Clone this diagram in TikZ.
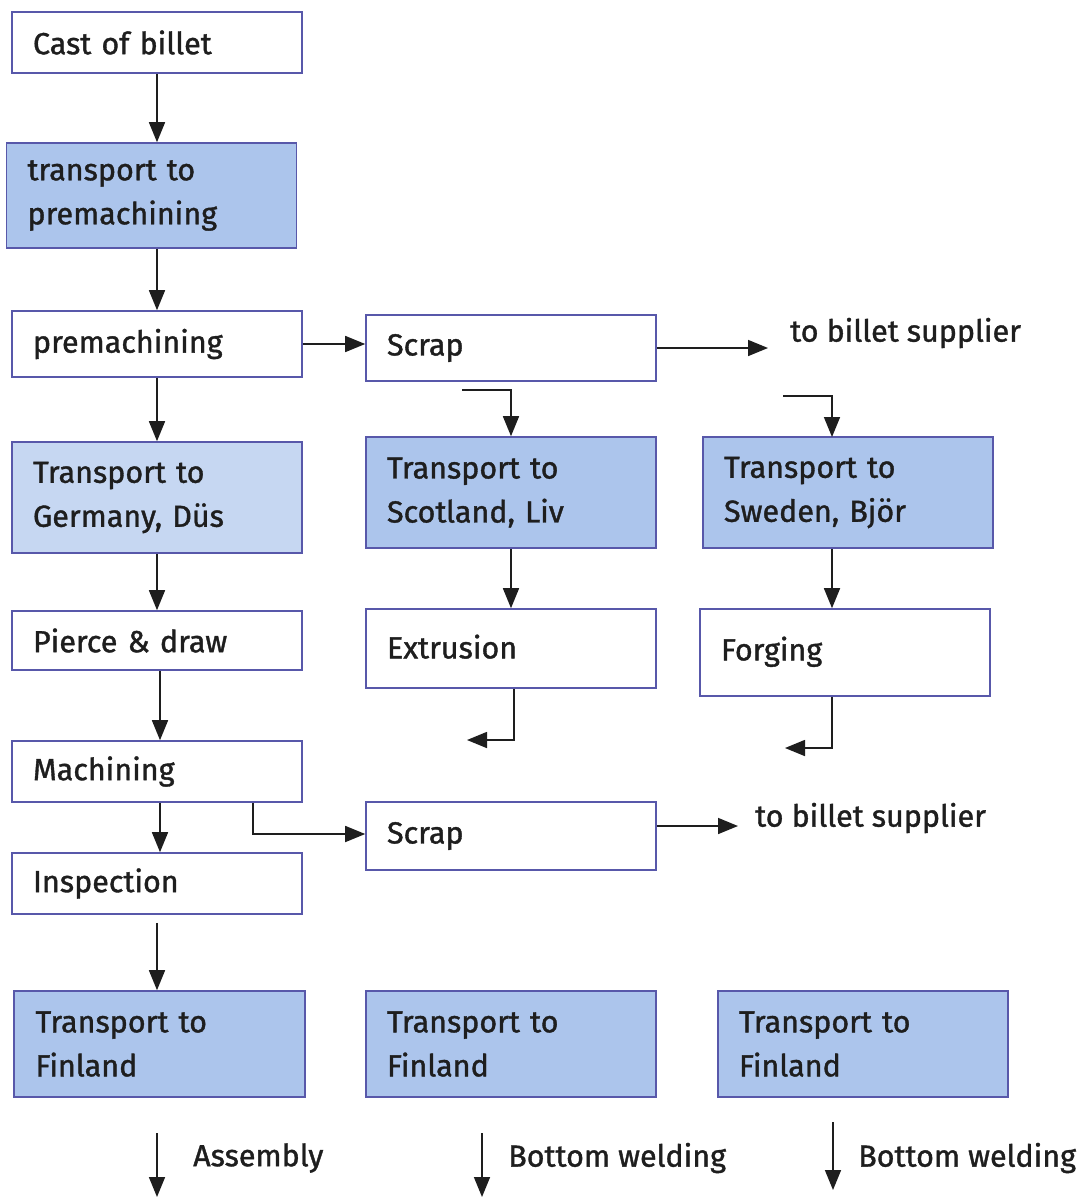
\documentclass[tikz,border=0pt]{standalone}
\usepackage{fontspec}
\setmainfont{Fira Sans}[FakeBold=1.2]
\usetikzlibrary{arrows.meta,positioning}
\definecolor{bordc}{RGB}{88,88,170}
\definecolor{fillb}{RGB}{172,197,236}
\definecolor{filll}{RGB}{198,215,242}
\definecolor{ink}{RGB}{30,30,30}
\begin{document}
\begin{tikzpicture}[x=1pt,y=1pt,
  every node/.style={text=ink,font=\fontsize{30.5}{44}\selectfont},
  box/.style={draw=bordc,line width=1.6pt,minimum width=290pt,text width=248pt,align=left,inner xsep=21pt,inner ysep=0pt},
  bluebox/.style={box,fill=fillb},
  lightbox/.style={box,fill=filll},
  lbl/.style={anchor=west,inner xsep=0pt},
  arr/.style={draw=ink,line width=1.6pt,-{Triangle[length=20pt,width=16pt]}}]
\fill[white] (0,0) rectangle (1088,-1200);
\useasboundingbox (0,0) rectangle (1088,-1200);
% left column
\node[box,minimum height=61pt] (cast) at (157,-42.5) {Cast of billet};
\node[bluebox,minimum width=289pt,minimum height=105pt] (tpre) at (151.5,-195.5) {transport to\\premachining};
\node[box,minimum height=66pt] (prem) at (157,-344) {premachining};
\node[lightbox,minimum height=111pt] (ger) at (157,-497.5) {Transport to\\Germany, Düs};
\node[box,minimum height=59pt] (pierce) at (157,-640.5) {Pierce \& draw};
\node[box,minimum height=61pt] (mach) at (157,-771.5) {Machining};
\node[box,minimum height=61pt] (insp) at (157,-883.5) {Inspection};
\node[bluebox,minimum width=291pt,minimum height=106pt] (fin1) at (159.5,-1044) {Transport to\\Finland};
% middle column
\node[box,minimum height=66pt] (scrap1) at (511,-348) {Scrap};
\node[bluebox,minimum height=111pt] (scot) at (511,-492.5) {Transport to\\Scotland, Liv};
\node[box,minimum height=79pt] (extr) at (511,-648.5) {\raisebox{4pt}{Extrusion}};
\node[box,minimum height=68pt] (scrap2) at (511,-836) {Scrap};
\node[bluebox,minimum height=106pt] (fin2) at (511,-1044) {Transport to\\Finland};
% right column
\node[bluebox,minimum height=111pt] (swe) at (848,-492.5) {Transport to\\Sweden, Björ};
\node[box,minimum height=87pt] (forg) at (845,-652.5) {\raisebox{8pt}{Forging}};
\node[bluebox,minimum height=106pt] (fin3) at (863,-1044) {Transport to\\Finland};
% labels
\node[lbl,inner xsep=22pt] (sup1) at (768,-333) {to billet supplier};
\node[lbl,inner xsep=17pt] (sup2) at (738,-818) {to billet supplier};
\node[lbl] (asm) at (193,-1158) {Assembly};
\node[lbl] (bw1) at (508,-1158) {Bottom welding};
\node[lbl] (bw2) at (858,-1158) {Bottom welding};
% free-end coordinates
\coordinate (e1) at (462,-390);
\coordinate (e2) at (783,-396);
\coordinate (e2t) at (832,-437);
\coordinate (ex) at (467,-740);
\coordinate (fx) at (785,-748);
\coordinate (b1s) at (157,-1133);
\coordinate (b1e) at (157,-1197);
\coordinate (b2s) at (482,-1133);
\coordinate (b2e) at (482,-1197);
\coordinate (b3s) at (833,-1122);
\coordinate (b3e) at (833,-1190);
% connectors
\draw[arr] (cast.south) -- (cast.south |- tpre.north);
\draw[arr] (cast.south |- tpre.south) -- (prem.north);
\draw[arr] (prem.east) -- (prem.east -| scrap1.west);
\draw[arr] (scrap1.east) -- (scrap1.east -| sup1.west);
\draw[arr] (prem.south) -- (ger.north);
\draw[arr] (e1) -| (scot.north);
\draw[arr] (e2) -| (e2t);
\draw[arr] (scot.south) -- (extr.north);
\draw[arr] (e2t |- swe.south) -- (e2t |- forg.north);
\draw[arr] ([xshift=3pt]extr.south) |- (ex);
\draw[arr] ([xshift=-13pt]forg.south) |- (fx);
\draw[arr] (ger.south) -- (pierce.north);
\draw[arr] ([xshift=3pt]pierce.south) -- ([xshift=3pt]mach.north);
\draw[arr] ([xshift=3pt]mach.south) -- ([xshift=3pt]insp.north);
\draw[arr] ([xshift=96pt]mach.south) |- ([yshift=2pt]scrap2.west);
\draw[arr] ([yshift=10pt]scrap2.east) -- ([yshift=10pt]scrap2.east -| sup2.west);
\draw[arr] ([yshift=-8pt]insp.south) -- (insp.south |- fin1.north);
\draw[arr] (b1s) -- (b1e);
\draw[arr] (b2s) -- (b2e);
\draw[arr] (b3s) -- (b3e);
\end{tikzpicture}
\end{document}
